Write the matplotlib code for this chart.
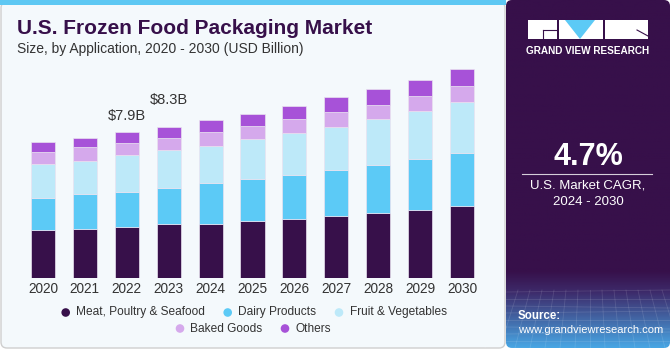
import numpy as np
import matplotlib
matplotlib.use("Agg")
import matplotlib.pyplot as plt
from matplotlib.patches import Rectangle, Polygon, FancyBboxPatch, Circle

plt.rcParams['font.family'] = ['Liberation Sans', 'DejaVu Sans']

# 数据
years = ['2020', '2021', '2022', '2023', '2024', '2025', '2026', '2027', '2028', '2029', '2030']
series_names = ['Meat, Poultry & Seafood', 'Dairy Products', 'Fruit & Vegetables', 'Baked Goods', 'Others']
meat = [2.62, 2.71, 2.79, 2.95, 2.98, 3.11, 3.26, 3.40, 3.57, 3.75, 3.95]
dairy = [1.78, 1.90, 1.93, 1.98, 2.21, 2.30, 2.40, 2.50, 2.64, 2.77, 2.91]
fruit = [1.83, 1.80, 2.01, 2.08, 2.05, 2.21, 2.30, 2.38, 2.50, 2.64, 2.79]
baked = [0.67, 0.75, 0.66, 0.66, 0.77, 0.69, 0.75, 0.79, 0.78, 0.82, 0.87]
others = [0.53, 0.51, 0.60, 0.60, 0.62, 0.69, 0.71, 0.82, 0.84, 0.86, 0.90]
label_years = ['2022', '2023']
label_texts = ['$7.9B', '$8.3B']
cagr = '4.7%'

colors = ['#37104a', '#5ccaf6', '#bde9f9', '#d5a9ec', '#a752d8']
dark = '#37104a'

fig = plt.figure(figsize=(6.7, 3.5), dpi=100)
fig.patch.set_facecolor('white')

# 背景（像素坐标）
bg = fig.add_axes([0, 0, 1, 1], zorder=0)
bg.set_xlim(0, 670)
bg.set_ylim(350, 0)
bg.axis('off')

bg.add_patch(FancyBboxPatch((1, 2), 504, 346, boxstyle='round,pad=0,rounding_size=6',
                            facecolor='#f4f9fc', edgecolor='#cfcfcf', linewidth=1))
bg.add_patch(Rectangle((0, 0), 506, 5, facecolor='#5ec8f3', edgecolor='none'))

# 右侧面板 + 渐变
grad_h = 350
t = np.linspace(0, 1, grad_h)
top = np.array([0x37, 0x10, 0x4a]) / 255
mid = np.array([0x3d, 0x2a, 0x6a]) / 255
bot = np.array([0x48, 0xa6, 0xe4]) / 255
img = np.zeros((grad_h, 2, 3))
for i, v in enumerate(t):
    if v < 0.78:
        c = top
    elif v < 0.84:
        f = (v - 0.78) / 0.06
        c = top + (mid - top) * f
    else:
        f = (v - 0.84) / 0.16
        c = mid + (bot - mid) * f
    img[i, :, :] = c
panel = bg.imshow(img, extent=(506, 670, 348, 0), aspect='auto', zorder=1)
clip = FancyBboxPatch((506, 0), 164, 348, boxstyle='round,pad=0,rounding_size=6',
                      facecolor='none', edgecolor='none', transform=bg.transData)
bg.add_patch(clip)
panel.set_clip_path(clip)

# 网格纹理
for k in range(9):
    yy = 292 + k * 7
    bg.plot([506, 670], [yy, yy + (k % 3 - 1) * 2], color='white', alpha=0.12, lw=0.6, zorder=2)
for k in range(14):
    xx = 506 + k * 12
    bg.plot([xx, xx + (k - 7) * 3], [290, 348], color='white', alpha=0.12, lw=0.6, zorder=2)

# Logo
bg.add_patch(Rectangle((528, 20), 29, 19, facecolor='white', zorder=3))
bg.plot([543, 557], [30, 30], color=dark, lw=0.8, zorder=4)
bg.plot([543, 543], [30, 39], color=dark, lw=0.8, zorder=4)
bg.add_patch(Rectangle((559, 20), 44, 19, facecolor='white', zorder=3))
bg.add_patch(Polygon([(565, 20), (595, 20), (580, 39)], closed=True, facecolor='#5ccaf6', zorder=4))
bg.add_patch(Rectangle((605, 20), 43, 19, facecolor='white', zorder=3))
bg.plot([637, 648], [30, 36], color=dark, lw=0.8, zorder=4)
bg.text(588, 51, 'GRAND VIEW RESEARCH', color='white', fontsize=7.2, fontweight='bold',
        ha='center', va='center', zorder=4)

bg.text(588, 157, cagr, color='white', fontsize=22, fontweight='bold', ha='center', va='center', zorder=4)
bg.plot([522, 652], [173.5, 173.5], color='white', lw=0.8, alpha=0.8, zorder=4)
bg.text(588, 185, 'U.S. Market CAGR,', color='white', fontsize=9.5, ha='center', va='center', zorder=4)
bg.text(588, 202, '2024 - 2030', color='white', fontsize=9.5, ha='center', va='center', zorder=4)
bg.text(518, 316, 'Source:', color='white', fontsize=8.3, fontweight='bold', ha='left', va='center', zorder=4)
bg.text(518, 330, 'www.grandviewresearch.com', color='white', fontsize=8, ha='left', va='center', zorder=4)

# 标题
bg.text(17, 29, 'U.S. Frozen Food Packaging Market', color='#37104a', fontsize=15,
        fontweight='bold', ha='left', va='center', zorder=4)
bg.text(17, 49, 'Size, by Application, 2020 - 2030 (USD Billion)', color='#333333',
        fontsize=10, ha='left', va='center', zorder=4)

# 图例
legend_pos = [(65.7, 312.5), (227.7, 312.5), (339, 312.5), (180, 328.5), (285, 328.5)]
for (lx, ly), name, c in zip(legend_pos, series_names, colors):
    bg.add_patch(Circle((lx, ly), 4.3, facecolor=c, edgecolor='none', zorder=4))
    bg.text(lx + 10.5, ly, name, color='#333333', fontsize=8.6, ha='left', va='center', zorder=4)

# 堆叠柱状图
ax = fig.add_axes([11.5 / 670, 71.7 / 350, 482 / 670, 220 / 350], zorder=1)
ax.patch.set_alpha(0)
x = np.arange(len(years))
bottom = np.zeros(len(years))
for vals, c in zip([meat, dairy, fruit, baked, others], colors):
    ax.bar(x, vals, width=0.575, bottom=bottom, color=c, edgecolor='#e9e2f0', linewidth=0.5)
    bottom += np.array(vals)

for yr, txt, off in zip(label_years, label_texts, [11.5, 19.5]):
    i = years.index(yr)
    ax.annotate(txt, (x[i], bottom[i]), xytext=(0, off), textcoords='offset points',
                ha='center', va='center', fontsize=10.5, color='#333333')

ax.set_xlim(-0.75, 10.75)
ax.set_ylim(0, 220 / 18.3)
ax.set_xticks(x)
ax.set_xticklabels(years, fontsize=9.8, color='#333333')
ax.tick_params(axis='x', length=0, pad=3)
ax.set_yticks([])
for s in ax.spines.values():
    s.set_visible(False)

plt.savefig('out.png', dpi=100)
